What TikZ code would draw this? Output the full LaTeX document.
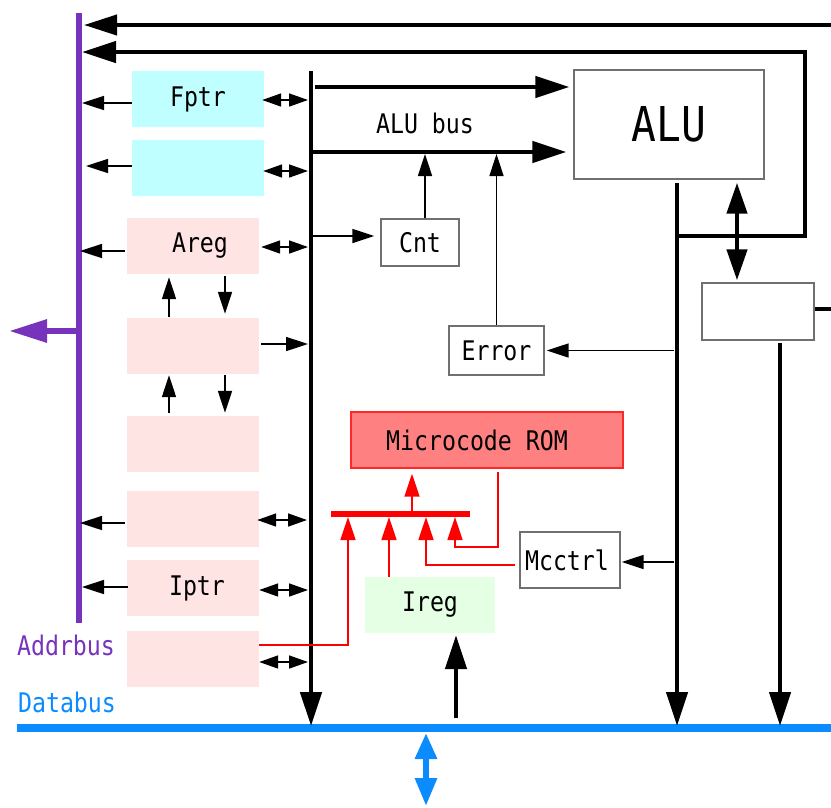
\documentclass[tikz,border=0pt]{standalone}
\usepackage{fontspec}
\newfontfamily\gfont[FakeStretch=0.86]{DejaVu Sans Mono}
\usetikzlibrary{arrows.meta}
\definecolor{addrc}{RGB}{119,51,187}
\definecolor{datac}{RGB}{10,140,255}
\definecolor{cyanf}{RGB}{192,255,255}
\definecolor{pinkf}{RGB}{255,228,228}
\definecolor{greenf}{RGB}{228,255,228}
\definecolor{romf}{RGB}{255,128,128}
\definecolor{romd}{RGB}{255,40,40}
\definecolor{boxg}{RGB}{112,112,112}
\tikzset{
  txt/.style={font=\gfont\fontsize{27}{30}\selectfont},
  box/.style={draw=boxg, line width=1.4pt, inner sep=0pt, txt},
  reg/.style={inner sep=0pt, minimum width=132pt, minimum height=56pt, txt},
  thinarr/.style={line width=1.6pt, -{Triangle[length=22pt,width=14pt]}},
  dblarr/.style={line width=1.6pt, {Triangle[length=19pt,width=13pt]}-{Triangle[length=19pt,width=13pt]}},
  thickarr/.style={line width=4.5pt, line join=miter, -{Triangle[length=34pt,width=21pt]}},
  thickdbl/.style={line width=4.5pt, {Triangle[length=31pt,width=20pt]}-{Triangle[length=31pt,width=20pt]}},
  redarr/.style={red, line width=1.6pt, -{Triangle[length=23pt,width=15pt]}},
}
\begin{document}
\begin{tikzpicture}[x=1pt,y=-1pt]
\useasboundingbox (0,0) rectangle (831,807);
% ---------- boxes ----------
\node[reg, fill=cyanf] (fptr) at (198,99) {Fptr};
\node[reg, fill=cyanf] (c2) at (198,168) {};
\node[reg, fill=pinkf] (areg) at (193,246) {\hspace*{14pt}Areg};
\node[reg, fill=pinkf] (r4) at (193,346) {};
\node[reg, fill=pinkf] (r5) at (193,444) {};
\node[reg, fill=pinkf] (r6) at (193,519) {};
\node[reg, fill=pinkf] (iptr) at (193,588) {\hspace*{8pt}Iptr};
\node[reg, fill=pinkf] (r8) at (193,659) {};
\node[box, minimum width=190pt, minimum height=109pt, font=\gfont\fontsize{48}{52}\selectfont] (alu) at (669,124.5) {ALU};
\node[box, minimum width=78pt, minimum height=47pt] (cnt) at (420,242.5) {Cnt};
\node[box, minimum width=95pt, minimum height=49pt] (err) at (496.5,350.5) {Error};
\node[box, minimum width=112pt, minimum height=57pt] (rbox) at (758,311.5) {};
\node[box, minimum width=100pt, minimum height=56pt] (mcc) at (570,560) {Mcctrl\hspace*{6pt}};
\node[box, draw=romd, fill=romf, minimum width=272pt, minimum height=56pt] (rom) at (487,440) {Microcode ROM\hspace*{20pt}};
\node[reg, fill=greenf, minimum width=130pt] (ireg) at (430,605) {Ireg};
% ---------- labels ----------
\node[txt, text=addrc] (addrlbl) at (66,645) {Addrbus};
\node[txt, text=datac] (datalbl) at (67,702) {Databus};
\node[txt] (alubus) at (425,123) {ALU bus};
% ---------- bus coordinates ----------
\coordinate (abT) at (79,13);
\coordinate (abB) at (79,623);
\coordinate (abM) at (79,331);
\coordinate (abOut) at (9,331);
\coordinate (dbL) at (17,728);
\coordinate (dbR) at (831,728);
\coordinate (dbA) at (426,733);
\coordinate (dbOut) at (426,806);
\coordinate (busT) at (311,71);
\coordinate (busB) at (311,726);
\coordinate (b1) at (315,87);
\coordinate (t1R) at (831,25);
\coordinate (rbOut) at (831,309);
\coordinate (aluO) at (677,183);
\coordinate (aluD) at (677,726);
\coordinate (j1) at (677,236);
\coordinate (j2) at (805,236);
\coordinate (j3) at (805,52);
\coordinate (rbD) at (780,726);
\coordinate (rbL) at (331,514);
\coordinate (rbR) at (470,514);
\coordinate (iregIn) at (456,718);
% ---------- buses ----------
\draw[addrc, line width=6pt] (abT) -- (abB);
\draw[addrc, line width=6pt, -{Triangle[length=38pt,width=22pt]}] (abM) -- (abOut);
\draw[datac, line width=8pt] (dbL) -- (dbR);
\draw[datac, line width=6pt, {Triangle[length=26pt,width=21pt]}-{Triangle[length=28pt,width=21pt]}] (dbA) -- (dbOut);
\draw[line width=4pt, -{Triangle[length=33pt,width=20pt]}, shorten >=5pt] (t1R) -- (abT |- t1R);
\draw[line width=4pt] (rbox.east |- rbOut) -- (rbOut);
\draw[thickarr, shorten >=3pt] (j1) -- (j2) -- (j3) -- (abT |- j3);
\draw[thickarr] (aluO) -- (aluD);
\draw[thickarr] (busT) -- (busB);
\draw[thickarr, shorten >=4pt] (b1) -- (alu.west |- b1);
\draw[thickarr, shorten >=7pt] (busT |- 0,152) -- (alu.west |- 0,152);
\draw[thickdbl, shorten <=3pt, shorten >=2pt] (alu.south -| 737,0) -- (rbox.north -| 737,0);
\draw[thickarr, shorten <=2pt] (rbox.south -| rbD) -- (rbD);
\draw[thickarr, shorten >=2pt] (iregIn) -- (ireg.south -| iregIn);
% ---------- ALU bus side ----------
\draw[thinarr, shorten >=6pt] (busT |- 0,236) -- (cnt.west |- 0,236);
\draw[thinarr, shorten >=2pt] ([xshift=5pt]cnt.north) -- ([xshift=5pt]cnt.north |- 0,152);
\draw[thinarr, shorten >=2pt] (err.north) -- (err.north |- 0,152);
\draw[thinarr, shorten <=3pt, shorten >=2pt] (aluO |- err.east) -- (err.east);
\draw[thinarr, shorten <=3pt, shorten >=1pt] (aluO |- 0,562) -- (mcc.east |- 0,562);
% ---------- register arrows ----------
\draw[thinarr, shorten >=3pt] (fptr.west |- 0,103) -- (abT |- 0,103);
\draw[thinarr, shorten >=7pt] (c2.west |- 0,166) -- (abT |- 0,166);
\draw[thinarr, shorten <=2pt, shorten >=1pt] (areg.west |- 0,251) -- (abT |- 0,251);
\draw[thinarr, shorten <=2pt, shorten >=1pt] (r6.west |- 0,523) -- (abT |- 0,523);
\draw[thinarr, shorten <=-1pt, shorten >=3pt] (iptr.west |- 0,587) -- (abT |- 0,587);
\draw[dblarr, shorten >=3pt, shorten <=-2pt] (fptr.east |- 0,100) -- (busT |- 0,100);
\draw[dblarr, shorten >=3pt, shorten <=-1pt] (c2.east |- 0,171) -- (busT |- 0,171);
\draw[dblarr, shorten >=3pt, shorten <=2pt] (areg.east |- 0,247) -- (busT |- 0,247);
\draw[thinarr, shorten >=3pt, shorten <=2pt] (r4.east |- 0,344) -- (busT |- 0,344);
\draw[dblarr, shorten >=4pt, shorten <=-2pt] (r6.east |- 0,520) -- (busT |- 0,520);
\draw[dblarr, shorten >=3pt] (iptr.east |- 0,590) -- (busT |- 0,590);
\draw[dblarr, shorten >=3pt] (r8.east |- 0,662) -- (busT |- 0,662);
\draw[thinarr, shorten <=1pt, shorten >=3pt] (r4.north -| 169,0) -- (areg.south -| 169,0);
\draw[thinarr, shorten <=2pt, shorten >=4pt] (areg.south -| 225,0) -- (r4.north -| 225,0);
\draw[thinarr, shorten <=3pt, shorten >=1pt] (r5.north -| 169,0) -- (r4.south -| 169,0);
\draw[thinarr, shorten <=1pt, shorten >=3pt] (r4.south -| 225,0) -- (r5.north -| 225,0);
% ---------- microcode ----------
\draw[red, line width=6pt] (rbL) -- (rbR);
\draw[redarr, shorten >=5pt] (412,514) -- (rom.south -| 412,0);
\draw[redarr] (r8.east |- 0,645) -- (348,645) -- (348,517);
\draw[redarr] (ireg.north -| 389,0) -- (389,517);
\draw[redarr, shorten <=4pt] (mcc.west |- 0,565) -- (426,565) -- (426,517);
\draw[redarr, shorten <=3pt] (rom.south -| 498,0) -- (498,547) -- (455,547) -- (455,517);
\end{tikzpicture}
\end{document}
